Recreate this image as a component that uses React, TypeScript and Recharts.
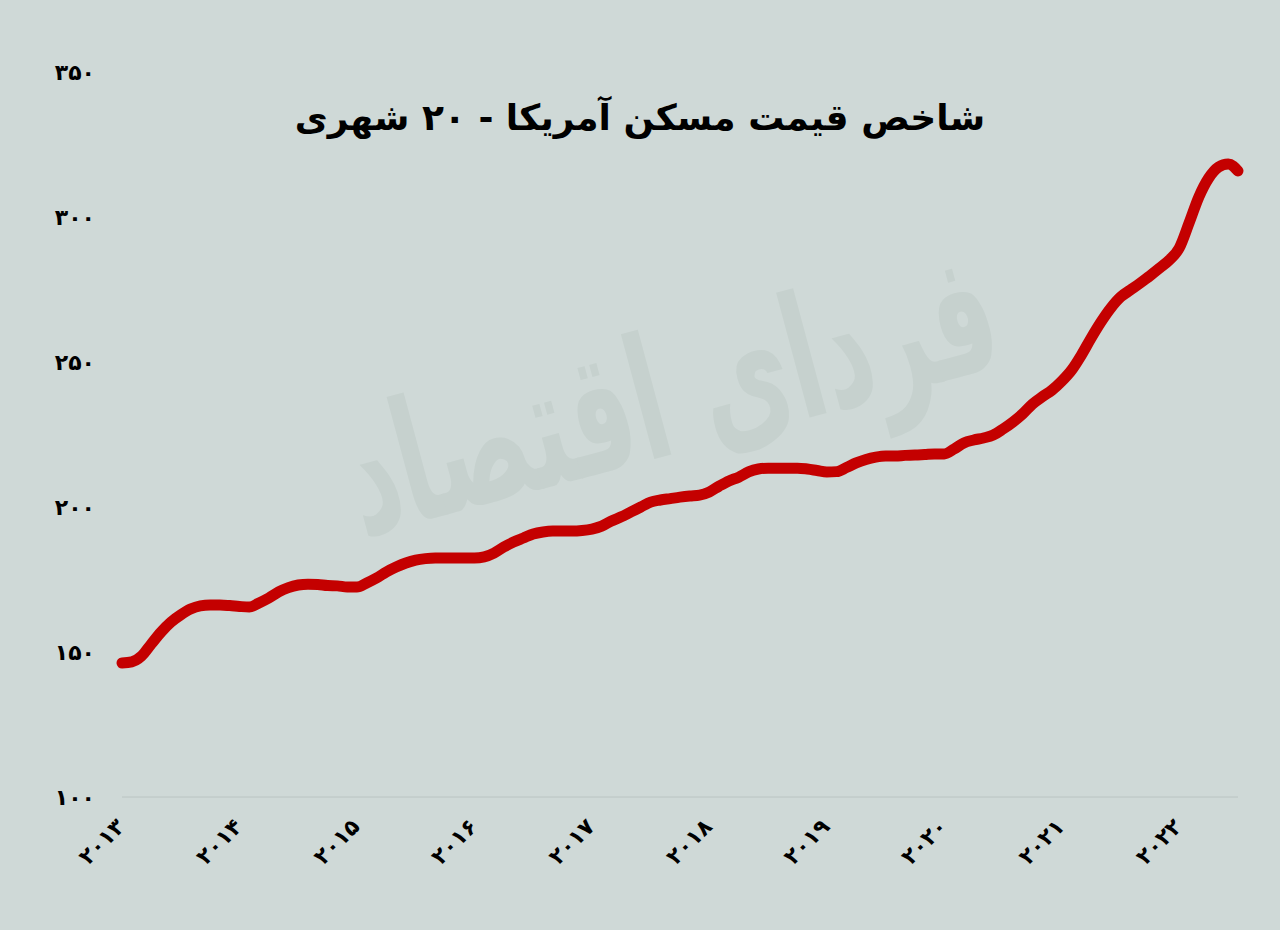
import React from 'react';
import { LineChart, Line, XAxis, YAxis } from 'recharts';

// Monthly index values, Jan of each year onward
const v2013 = [146.2, 146.6, 148.6, 152.8, 156.9, 160.3, 162.8, 164.8, 165.9, 166.2, 166.2, 166.0];
const v2014 = [165.7, 165.5, 166.9, 168.6, 170.7, 172.2, 173.1, 173.4, 173.3, 172.9, 172.8, 172.4];
const v2015 = [172.4, 173.8, 175.5, 177.6, 179.3, 180.7, 181.7, 182.2, 182.4, 182.4, 182.4, 182.4];
const v2016 = [182.4, 182.8, 184.1, 186.2, 187.9, 189.3, 190.7, 191.4, 191.7, 191.7, 191.7, 191.9];
const v2017 = [192.4, 193.4, 195.2, 196.6, 198.3, 200.0, 201.7, 202.4, 202.9, 203.4, 203.8, 204.1];
const v2018 = [205.2, 207.2, 209.0, 210.3, 212.1, 213.1, 213.4, 213.4, 213.4, 213.4, 213.1, 212.6];
const v2019 = [212.1, 212.2, 213.6, 215.2, 216.4, 217.2, 217.6, 217.6, 217.8, 217.9, 218.1, 218.3];
const v2020 = [218.3, 220.0, 222.1, 223.1, 223.8, 224.8, 226.9, 229.3, 232.1, 235.5, 238.0, 240.3];
const v2021 = [243.4, 247.2, 252.4, 258.3, 263.8, 268.6, 272.4, 274.8, 277.2, 279.7, 282.4, 285.2];
const v2022 = [289.3, 297.9, 306.9, 313.4, 317.2, 318.3, 315.9];

const years = [2013, 2014, 2015, 2016, 2017, 2018, 2019, 2020, 2021, 2022];
const yearValues = [v2013, v2014, v2015, v2016, v2017, v2018, v2019, v2020, v2021, v2022];
const yTicks = [100, 150, 200, 250, 300, 350];

const TITLE = 'شاخص قیمت مسکن آمریکا - ۲۰ شهری';
const WATERMARK = 'فردای اقتصاد';

const data = years.flatMap((yr, yi) =>
  yearValues[yi].map((value, m) => ({ month: `${yr}-${m + 1}`, value }))
);
const yearTicks = years.map((yr) => `${yr}-1`);

const faDigits = '۰۱۲۳۴۵۶۷۸۹';
const toFa = (s: string | number) => String(s).replace(/\d/g, (d) => faDigits[Number(d)]);

const FONT = '"DejaVu Sans", sans-serif';
const BG = '#cfd9d7';

document.body.style.margin = '0';
document.body.style.background = BG;

const YearTick = (props: any) => {
  const { x, y, payload } = props;
  return (
    <g transform={`translate(${x - 3},${y + 16})`}>
      <text
        x={0}
        y={0}
        dy={10}
        textAnchor="end"
        transform="rotate(-45)"
        fontFamily={FONT}
        fontWeight="bold"
        fontSize={22}
        fill="#000"
      >
        {toFa(String(payload.value).split('-')[0])}
      </text>
    </g>
  );
};

export default function App() {
  return (
    <div
      style={{
        position: 'relative',
        width: 1280,
        height: 930,
        background: BG,
        overflow: 'hidden',
      }}
    >
      <div
        style={{
          position: 'absolute',
          left: 320,
          top: 345,
          width: 700,
          textAlign: 'center',
          fontFamily: FONT,
          fontWeight: 'bold',
          fontSize: 100,
          lineHeight: 1,
          color: '#c6d1ce',
          transform: 'rotate(-15deg) scaleY(1.7)',
          direction: 'rtl',
          whiteSpace: 'nowrap',
        }}
      >
        {WATERMARK}
      </div>
      <div
        style={{
          position: 'absolute',
          left: 0,
          top: 97,
          width: 1280,
          textAlign: 'center',
          fontFamily: FONT,
          fontWeight: 'bold',
          fontSize: 36,
          color: '#000',
          direction: 'rtl',
        }}
      >
        {TITLE}
      </div>
      <div style={{ position: 'absolute', left: 0, top: 0 }}>
        <LineChart
          width={1280}
          height={930}
          data={data}
          margin={{ top: 72, right: 42, bottom: 73, left: 42 }}
        >
          <XAxis
            dataKey="month"
            ticks={yearTicks}
            interval={0}
            tickLine={false}
            axisLine={{ stroke: '#bac4c2', strokeWidth: 1 }}
            height={60}
            tick={<YearTick />}
          />
          <YAxis
            domain={[100, 350]}
            ticks={yTicks}
            width={80}
            axisLine={false}
            tickLine={false}
            tickSize={0}
            tickMargin={27}
            tickFormatter={(v: number) => toFa(v)}
            tick={{ fontFamily: FONT, fontWeight: 'bold', fontSize: 22, fill: '#000' }}
          />
          <Line
            type="monotone"
            dataKey="value"
            stroke="#c40000"
            strokeWidth={11}
            strokeLinecap="round"
            strokeLinejoin="round"
            dot={false}
            activeDot={false}
            isAnimationActive={false}
          />
        </LineChart>
      </div>
    </div>
  );
}
